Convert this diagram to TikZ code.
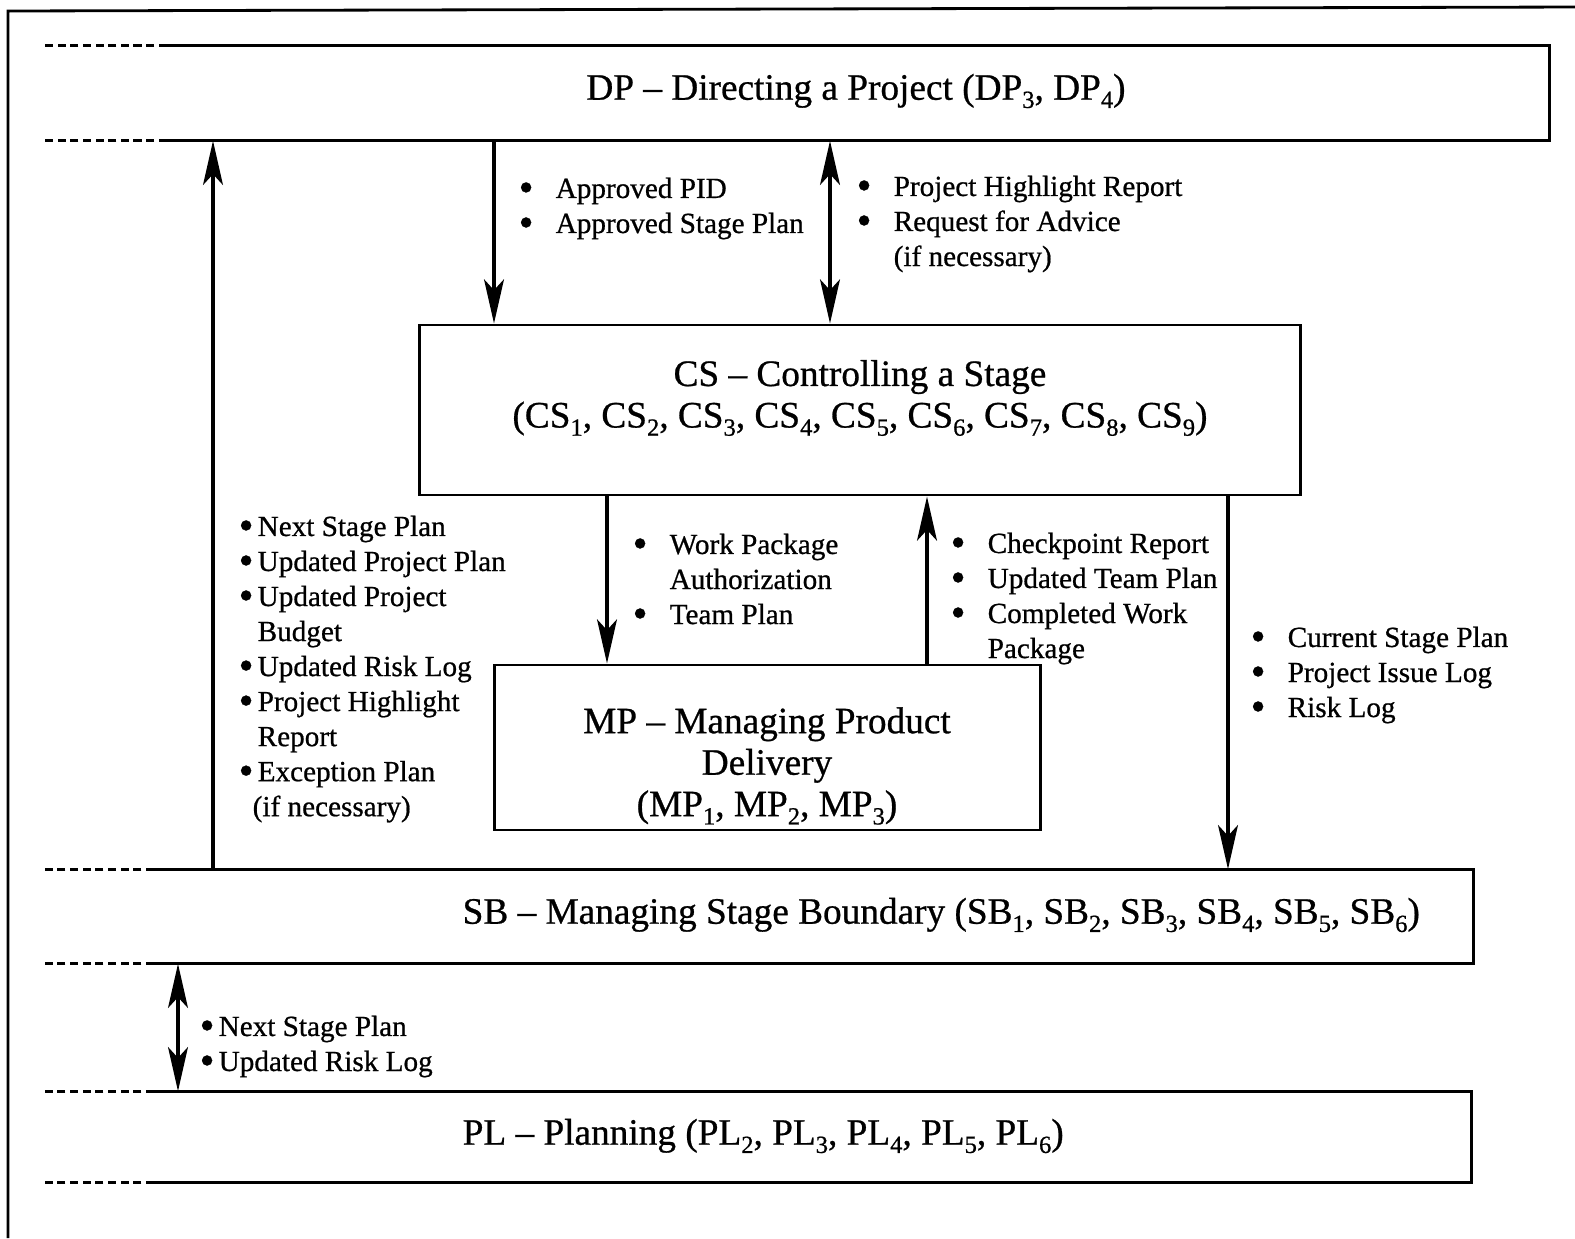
\documentclass[tikz,border=0pt]{standalone}
\usepackage{fontspec}
\setmainfont{Liberation Serif}[FakeBold=0.7]
\usetikzlibrary{arrows.meta}

\newcommand{\titlesize}{\fontsize{10.6pt}{11.8pt}\selectfont}
\newcommand{\listsize}{\fontsize{8.3pt}{9.96pt}\selectfont}
\newcommand{\dotmark}{\smash{\raisebox{-0.12em}{\scalebox{1.45}{\textbullet}}}}
\newcommand{\bul}{\makebox[0.37cm][l]{\dotmark}}
\newcommand{\bulx}{\makebox[0.19cm][l]{\dotmark}}
\newcommand{\gap}{\hspace*{0.37cm}}
\newcommand{\gapx}{\hspace*{0.19cm}}
\newcommand{\sbs}[1]{\raisebox{-0.22em}{\fontsize{7pt}{7pt}\selectfont #1}}

\begin{document}
\begin{tikzpicture}[x=0.01cm,y=-0.01cm,
  >={Stealth[length=12.5pt,width=5.6pt,inset=3pt]},
  edge/.style={line width=0.8pt},
  lane/.style={line width=0.8pt,dash pattern=on 2.3pt off 1.3pt},
  flow/.style={line width=1.4pt},
  proc/.style={draw,line width=0.8pt,inner sep=0pt},
  lanebox/.style={inner sep=0pt},
  title/.style={font=\titlesize,align=center,inner sep=0pt},
  items/.style={anchor=north west,align=left,inner sep=0pt,font=\listsize}]
\useasboundingbox (0,0) rectangle (1575,1238);
\draw[edge] (8,1238) -- (8,11) -- (1575,7);

% swimlanes
\node[lanebox,minimum width=13.8cm,minimum height=0.94cm] (dp) at (858,93) {};
\node[title] (dpt) at (856,91) {DP -- Directing a Project (DP\sbs{3}, DP\sbs{4})};
\draw[edge] (dp.north west) -- (dp.north east) -- (dp.south east) -- (dp.south west);
\draw[lane] (dp.north west) -- ++(-123,0);
\draw[lane] (dp.south west) -- ++(-123,0);

\node[lanebox,minimum width=13.17cm,minimum height=0.93cm] (sb) at (813.5,916.5) {};
\draw[edge] (sb.north west) -- (sb.north east) -- (sb.south east) -- (sb.south west);
\draw[lane] (sb.north west) -- ++(-110,0);
\draw[lane] (sb.south west) -- ++(-110,0);
\node[title,anchor=west] (sbt) at (462,915)
  {SB -- Managing Stage Boundary (SB\sbs{1}, SB\sbs{2}, SB\sbs{3}, SB\sbs{4}, SB\sbs{5}, SB\sbs{6})};

\node[lanebox,minimum width=13.15cm,minimum height=0.9cm] (pl) at (812.5,1137) {};
\draw[edge] (pl.north west) -- (pl.north east) -- (pl.south east) -- (pl.south west);
\draw[lane] (pl.north west) -- ++(-110,0);
\draw[lane] (pl.south west) -- ++(-110,0);
\node[title,anchor=west] (plt) at (462,1136)
  {PL -- Planning (PL\sbs{2}, PL\sbs{3}, PL\sbs{4}, PL\sbs{5}, PL\sbs{6})};

% processes
\node[proc,minimum width=8.8cm,minimum height=1.7cm] (cs) at (860,410) {};
\node[title] (cst) at (860,398) {CS -- Controlling a Stage\\
  (CS\sbs{1}, CS\sbs{2}, CS\sbs{3}, CS\sbs{4}, CS\sbs{5}, CS\sbs{6}, CS\sbs{7}, CS\sbs{8}, CS\sbs{9})};
\node[proc,minimum width=5.45cm,minimum height=1.65cm] (mp) at (767.5,747.5) {};
\node[title] (mpt) at (767,766) {MP -- Managing Product\\Delivery\\
  (MP\sbs{1}, MP\sbs{2}, MP\sbs{3})};

% flows
\draw[flow,->] (sb.north -| 213,0) -- (dp.south -| 213,0);
\draw[flow,->] (dp.south -| 494,0) -- (cs.north -| 494,0);
\draw[flow,<->] (dp.south -| 830,0) -- (cs.north -| 830,0);
\draw[flow,->] (cs.south -| 607,0) -- (mp.north -| 607,0);
\draw[flow,->] (mp.north -| 927,0) -- (cs.south -| 927,0);
\draw[flow,->] (cs.south -| 1228,0) -- (sb.north -| 1228,0);
\draw[flow,<->] (sb.south -| 178,0) -- (pl.north -| 178,0);

% products on the flows
\node[items] (down1) at (518,177) {\bul Approved PID\\\bul Approved Stage Plan};
\node[items] (up1) at (856,175) {\bul Project Highlight Report\\\bul Request for Advice\\\gap(if necessary)};
\node[items] (up2) at (238,515) {\bulx Next Stage Plan\\\bulx Updated Project Plan\\\bulx Updated Project\\\gapx Budget\\
  \bulx Updated Risk Log\\\bulx Project Highlight\\\gapx Report\\\bulx Exception Plan\\\hspace*{0.14cm}(if necessary)};
\node[items] (down2) at (632,533) {\bul Work Package\\\gap Authorization\\\bul Team Plan};
\node[items] (up3) at (950,532) {\bul Checkpoint Report\\\bul Updated Team Plan\\\bul Completed Work\\\gap Package};
\node[items] (down3) at (1250,626) {\bul Current Stage Plan\\\bul Project Issue Log\\\bul Risk Log};
\node[items] (both1) at (199,1015) {\bulx Next Stage Plan\\\bulx Updated Risk Log};
\end{tikzpicture}
\end{document}
